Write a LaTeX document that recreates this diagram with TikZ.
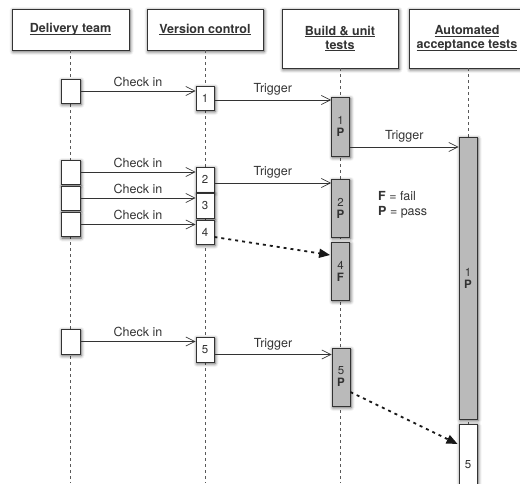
\documentclass[tikz,border=0pt]{standalone}
\usepackage{fontspec}
\setmainfont{TeX Gyre Heros}
\usetikzlibrary{arrows.meta,calc,shadows.blur}

% underline sitting just under the baseline
\newcommand\hdul[1]{\setbox0\hbox{#1}\rlap{\rule[-2.2pt]{\wd0}{0.8pt}}\box0}

\begin{document}
\begin{tikzpicture}[x=1pt,y=-1pt,
  shade/.style={blur shadow={shadow xshift=1pt, shadow yshift=-1.5pt,
      shadow blur radius=3.5pt, shadow opacity=70}},
  head/.style={draw=black!80, line width=0.8pt, fill=white, shade,
      minimum width=116pt, inner sep=2pt, align=center, text=black!80,
      font=\fontsize{12.5}{14}\selectfont\bfseries},
  act/.style={draw=black!80, line width=0.8pt, fill=white, shade,
      minimum width=18pt, inner sep=0pt, align=center, text=black!80,
      font=\fontsize{11.5}{13}\selectfont},
  run/.style={act, fill=black!27},
  life/.style={draw=black!65, line width=0.8pt, dash pattern=on 3pt off 3pt},
  msg/.style={draw=black!80, line width=0.7pt,
      -{Straight Barb[length=9pt,width=9pt]}},
  dep/.style={draw=black!90, line width=1.8pt, dash pattern=on 3pt off 4pt,
      -{Triangle[length=11pt,width=9pt]}},
  lbl/.style={midway, above=3pt, inner sep=1pt, text=black!80,
      font=\fontsize{12.5}{14}\selectfont}]

\useasboundingbox (0,0) rectangle (520,483);
\coordinate (bot) at (0,483);

% lane headers
\node[head, minimum width=117pt, minimum height=41pt] (h1) at (70.5,29.5) {\hdul{Delivery team}};
\node[head, minimum height=41pt] (h2) at (205,29.5) {\hdul{Version control}};
\node[head, minimum height=59pt] (h3) at (340,38.5) {\hdul{Build \& unit}\\\hdul{tests}};
\node[head, minimum height=59pt] (h4) at (467,38.5) {\hdul{Automated}\\\hdul{acceptance tests}};

% lifelines
\draw[life] (70,50) -- (70,483);
\draw[life] (h2.south) -- (h2.south |- bot);
\draw[life] (h3.south) -- (h3.south |- bot);
\draw[life] (468,68) -- (468,483);

% delivery team
\node[act, minimum width=19pt, minimum height=24pt] (d1) at (70.5,91) {};
\node[act, minimum width=19pt, minimum height=24pt] (d2) at (70.5,172) {};
\node[act, minimum width=19pt, minimum height=24pt] (d3) at (70.5,198) {};
\node[act, minimum width=19pt, minimum height=24pt] (d4) at (70.5,224.5) {};
\node[act, minimum width=19pt, minimum height=25pt] (d5) at (70.5,341.5) {};

% version control
\node[act, minimum height=24pt] (v1) at (205,98) {1};
\node[act, minimum height=25pt] (v2) at (205,179.5) {2};
\node[act, minimum height=25pt] (v3) at (205,205.5) {3};
\node[act, minimum height=24pt] (v4) at (205,232) {4};
\node[act, minimum height=25pt] (v5) at (205,349.5) {5};

% build & unit tests
\node[run, minimum height=59pt] (b1) at (340.5,126.5) {1\\[-1pt]\textbf{P}};
\node[run, minimum height=58pt] (b2) at (340.5,208) {2\\[-1pt]\textbf{P}};
\node[run, minimum height=58pt] (b4) at (340.5,271) {4\\[-1pt]\textbf{F}};
\node[run, minimum height=58pt] (b5) at (341,377) {5\\[-1pt]\textbf{P}};

% automated acceptance tests
\node[run, minimum height=282pt] (a1) at (468,278) {1\\[-1pt]\textbf{P}};
\node[act, minimum height=82pt] (a5) at (468,465) {5};

% check-ins
\draw[msg] (d1.east) -- node[lbl] {Check in} (d1.east -| v1.west);
\draw[msg] (d2.east) -- node[lbl] {Check in} (d2.east -| v2.west);
\draw[msg] (d3.east) -- node[lbl] {Check in} (d3.east -| v3.west);
\draw[msg] (d4.east) -- node[lbl] {Check in} (d4.east -| v4.west);
\draw[msg] (d5.east) -- node[lbl] {Check in} (d5.east -| v5.west);

% triggers
\draw[msg] ($(v1.east)+(0,2)$) coordinate (t1) -- node[lbl] {Trigger} (t1 -| b1.west);
\draw[msg] ($(v2.east)+(0,3.5)$) coordinate (t2) -- node[lbl] {Trigger} (t2 -| b2.west);
\draw[msg] ($(v5.east)+(0,5)$) coordinate (t5) -- node[lbl] {Trigger} (t5 -| b5.west);
\draw[msg] ($(b1.east)+(0,20.5)$) coordinate (t6) -- node[lbl] {Trigger} (t6 -| a1.west);

% results handed on
\draw[dep] ($(v4.east)+(0,5)$) -- ($(b4.west)+(-1,-16)$);
\draw[dep] ($(b5.east)+(0,15)$) -- ($(a5.west)+(-1,-21)$);

% legend
\node[anchor=west, align=left, inner sep=0pt, text=black!80,
      font=\fontsize{12.5}{15}\selectfont] (leg) at (378,204.5)
  {\textbf{F} = fail\\\textbf{P} = pass};
\end{tikzpicture}
\end{document}
